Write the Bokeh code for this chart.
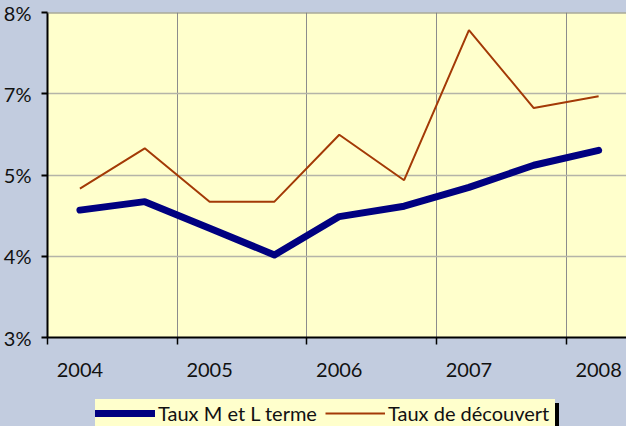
from bokeh.plotting import figure
from bokeh.layouts import column
from bokeh.models import (Range1d, FixedTicker, LinearAxis, Legend, LegendItem, Span)
from bokeh.embed import file_html
from bokeh.resources import INLINE

# ---- data ----
period_index = [0, 1, 2, 3, 4, 5, 6, 7, 8]          # semi-annual points
year_label_pos = [0, 2, 4, 6, 8]
year_labels = ["2004", "2005", "2006", "2007", "2008"]
taux_mlt = [4.96, 5.09, 4.68, 4.27, 4.86, 5.02, 5.31, 5.65, 5.88]   # Taux M et L terme
taux_dec = [5.29, 5.91, 5.09, 5.09, 6.12, 5.42, 7.73, 6.53, 6.71]   # Taux de découvert
y_ticks = [3, 4.25, 5.5, 6.75, 8]
y_tick_labels = ["3%", "4%", "5%", "7%", "8%"]
x_boundaries = [-0.5, 1.5, 3.5, 5.5, 7.5]
series_names = ["Taux M et L terme", "Taux de découvert"]

FONT = "Lato"
BG = "#C2CCDF"
PLOT_BG = "#FFFFCC"
BLUE = "#000080"
RED = "#A33A06"

W = 626
H1 = 384
H2 = 42

p = figure(width=W, height=H1, output_backend="svg", toolbar_location=None,
           x_range=Range1d(-0.5, 8.43), y_range=Range1d(3, 8),
           min_border_left=46, min_border_right=0, min_border_top=12,
           min_border_bottom=H1 - 12 - 325)
p.background_fill_color = PLOT_BG
p.border_fill_color = BG
p.outline_line_color = None

r1 = p.line(period_index, taux_mlt, line_color=BLUE, line_width=7,
            line_cap="round", line_join="round")
r2 = p.line(period_index, taux_dec, line_color=RED, line_width=2)

# top border of plot area
p.add_layout(Span(location=8, dimension="width", line_color="#808080", line_width=2))

# y axis
ya = p.yaxis[0]
ya.ticker = FixedTicker(ticks=y_ticks)
ya.major_label_overrides = {t: l for t, l in zip(y_ticks, y_tick_labels)}
ya.axis_line_color = "black"
ya.axis_line_width = 2
ya.major_tick_line_color = "black"
ya.major_tick_line_width = 2
ya.major_tick_in = 0
ya.major_tick_out = 6
ya.minor_tick_line_color = None
ya.major_label_text_font = FONT
ya.major_label_text_font_size = "20px"
ya.major_label_text_color = "#111111"
ya.major_label_standoff = 10

# x axis: tick marks only
xa = p.xaxis[0]
xa.ticker = FixedTicker(ticks=x_boundaries)
xa.major_label_overrides = {t: "" for t in x_boundaries}
xa.major_label_text_font_size = "1px"
xa.major_label_standoff = 0
xa.axis_line_color = "black"
xa.axis_line_width = 2
xa.major_tick_line_color = "black"
xa.major_tick_line_width = 1.5
xa.major_tick_in = 0
xa.major_tick_out = 7
xa.minor_tick_line_color = None

# x axis: year labels
xl = LinearAxis(ticker=FixedTicker(ticks=year_label_pos),
                major_label_overrides={t: l for t, l in zip(year_label_pos, year_labels)})
xl.axis_line_color = None
xl.major_tick_line_color = None
xl.minor_tick_line_color = None
xl.major_label_text_font = FONT
xl.major_label_text_font_size = "20px"
xl.major_label_text_color = "#111111"
xl.major_label_standoff = 12
p.add_layout(xl, "below")

# grids
p.xgrid.ticker = FixedTicker(ticks=x_boundaries)
p.xgrid.grid_line_color = "#8C8C8C"
p.xgrid.grid_line_width = 1
p.ygrid.ticker = FixedTicker(ticks=y_ticks)
p.ygrid.grid_line_color = "#B4B4A8"
p.ygrid.grid_line_width = 1.5

# ---- legend strip (series drawn out of view, only their legend glyphs show) ----
p2 = figure(width=W, height=H2, output_backend="svg", toolbar_location=None,
            x_range=Range1d(-0.5, 8.43), y_range=Range1d(0, 1),
            x_axis_type=None, y_axis_type=None, min_border=0)
p2.background_fill_color = BG
p2.border_fill_color = BG
p2.outline_line_color = None
p2.grid.visible = False
d1 = p2.line(period_index, taux_mlt, line_color=BLUE, line_width=7, line_cap="round")
d2 = p2.line(period_index, taux_dec, line_color=RED, line_width=2)
d0 = p2.line(period_index, taux_mlt, line_alpha=0)   # invisible, for the shadow box

PAD, GW, STAND, LW = 5, 60, 3, 167
LEG_W = 2 * PAD + 2 * (GW + STAND + LW)

def style(lg, fill):
    lg.background_fill_color = fill
    lg.background_fill_alpha = 1
    lg.border_line_color = None
    lg.padding = PAD
    lg.margin = 0
    lg.glyph_height = 28
    lg.label_height = 28
    lg.label_standoff = STAND
    return lg

# shadow box (black, offset 4px right and down)
shadow = Legend(items=[LegendItem(label=" ", renderers=[d0])],
                orientation="horizontal", location=(52, -5))
style(shadow, "black")
shadow.glyph_width = LEG_W - 2 * PAD - STAND - 1
shadow.label_width = 1
shadow.label_text_font_size = "1px"
p2.add_layout(shadow)

leg = Legend(items=[LegendItem(label=series_names[0], renderers=[d1]),
                    LegendItem(label=series_names[1], renderers=[d2])],
             orientation="horizontal", location=(48, -1))
style(leg, PLOT_BG)
leg.glyph_width = GW
leg.label_width = LW
leg.spacing = 0
leg.label_text_font = FONT
leg.label_text_font_size = "20px"
leg.label_text_color = "#111111"
p2.add_layout(leg)

layout = column(p, p2, spacing=0, styles={"background-color": BG})
open("out.html", "w").write(file_html(layout, INLINE))
